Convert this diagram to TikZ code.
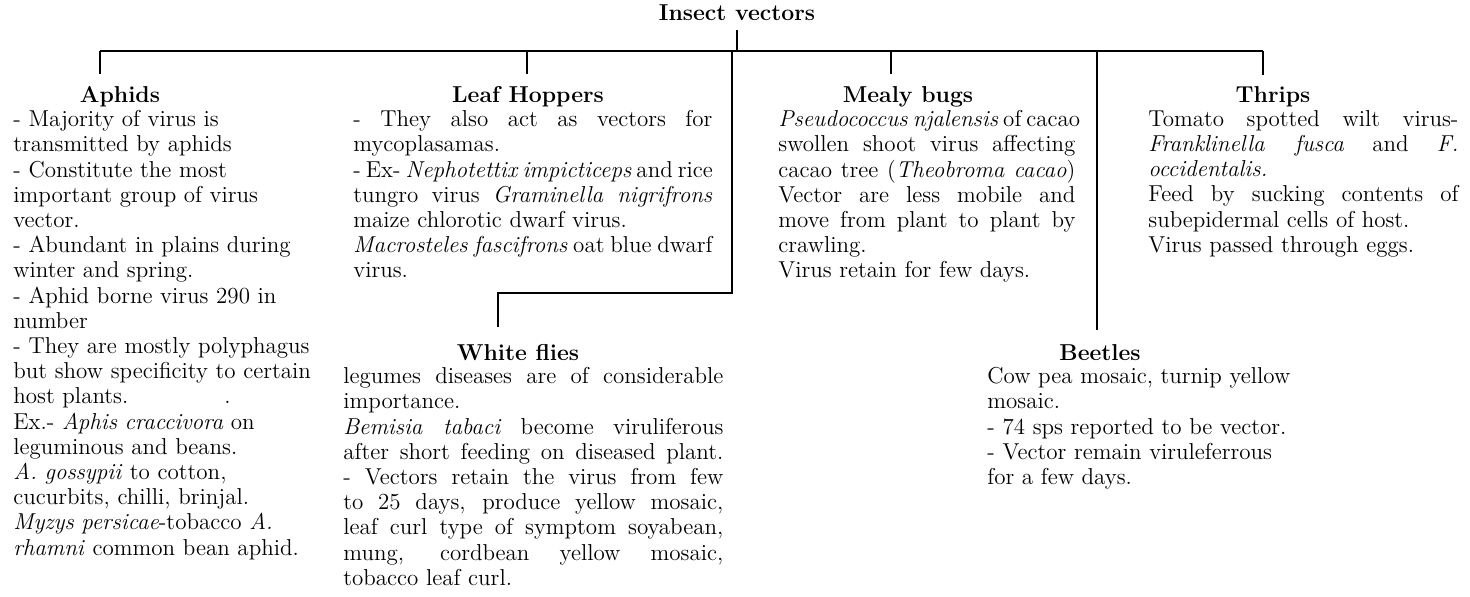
\documentclass[tikz,border=0pt]{standalone}
\usepackage{fontspec}
\usetikzlibrary{positioning}
\newcommand{\bodyfont}{\fontsize{11.5}{12.6}\selectfont}
\newcommand{\jl}[1]{\leavevmode\hbox to\hsize{\spaceskip=0pt\xspaceskip=0pt #1}\\}
\tikzset{
    tree_line/.style={line width=1.2pt, black},
    head_node/.style={font=\bodyfont\bfseries, inner sep=0pt, anchor=base},
    body_node/.style={font=\bodyfont, inner sep=0pt, anchor=north west, align=left}
}

\begin{document}
\begin{tikzpicture}[x=0.5pt, y=-0.5pt]
        \useasboundingbox (0,0) rectangle (1470,596);
        % root and bar
        \node[head_node] (root) at (737,20) {Insect vectors};
        \coordinate (root_stem) at (737,30);
        \coordinate (root_bar) at (737,51);
        \draw[tree_line] (root_stem) -- (root_bar);
        \foreach \name/\x/\y in {aph/100/74, lh/527/74, mb/891/74, thr/1263/75} {
            \coordinate (\name_top) at (\x,51);
            \coordinate (\name_end) at (\x,\y);
            \draw[tree_line] (\name_top) -- (\name_end);
        }
        \draw[tree_line] (aph_top) -- (thr_top);
        % long branches
        \coordinate (wf_top) at (732,51);
        \coordinate (wf_bend) at (498,293);
        \coordinate (wf_end) at (498,327);
        \draw[tree_line] (wf_top) |- (wf_bend) -- (wf_end);
        \coordinate (bt_top) at (1097,51);
        \coordinate (bt_end) at (1097,330);
        \draw[tree_line] (bt_top) -- (bt_end);
        % titles
        \node[head_node] (aph_title) at (120,102) {Aphids};
        \node[head_node] (lh_title) at (528,102) {Leaf Hoppers};
        \node[head_node] (mb_title) at (908,102) {Mealy bugs};
        \node[head_node] (thr_title) at (1273,102) {Thrips};
        \node[head_node] (wf_title) at (518,360) {White flies};
        \node[head_node] (bt_title) at (1100,360) {Beetles};
        % Aphids
        \node[body_node, text width=175pt] (aph_text) at (13,110) {%
            - Majority of virus is\\
            transmitted by aphids\\
            - Constitute the most\\
            important group of virus\\
            vector.\\
            - Abundant in plains during\\
            winter and spring.\\
            - Aphid borne virus 290 in\\
            number\\
            - They are mostly polyphagus\\
            but show specificity to certain\\
            host plants.\hspace{48pt}.\\
            Ex.- \textit{Aphis craccivora} on\\
            leguminous and beans.\\
            \textit{A. gossypii} to cotton,\\
            cucurbits, chilli, brinjal.\\
            \textit{Myzys persicae}-tobacco \textit{A.}\\
            \textit{rhamni} common bean aphid.};
        % Leaf Hoppers
        \node[body_node, text width=179.5pt] (lh_text) at (353,110) {%
            \jl{- They also act as vectors for}
            mycoplasamas.\\
            \jl{- Ex- \textit{Nephotettix impicticeps} and rice}
            \jl{tungro virus \textit{Graminella nigrifrons}}
            maize chlorotic dwarf virus.\\
            \jl{\textit{Macrosteles fascifrons} oat blue dwarf}
            virus.};
        % Mealy bugs
        \node[body_node, text width=148.5pt] (mb_text) at (778,110) {%
            \jl{\textit{Pseudococcus njalensis} of cacao}
            \jl{swollen shoot virus affecting}
            \jl{cacao tree (\textit{Theobroma cacao})}
            \jl{Vector are less mobile and}
            \jl{move from plant to plant by}
            crawling.\\
            Virus retain for few days.};
        % Thrips
        \node[body_node, text width=155pt] (thr_text) at (1148,110) {%
            \jl{Tomato spotted wilt virus-}
            \jl{\textit{Franklinella fusca} and \textit{F.}}
            \textit{occidentalis.}\\
            \jl{Feed by sucking contents of}
            subepidermal cells of host.\\
            Virus passed through eggs.};
        % White flies
        \node[body_node, text width=190pt] (wf_text) at (343,367) {%
            \jl{legumes diseases are of considerable}
            importance.\\
            \jl{\textit{Bemisia tabaci} become viruliferous}
            \jl{after short feeding on diseased plant.}
            \jl{- Vectors retain the virus from few}
            \jl{to 25 days, produce yellow mosaic,}
            \jl{leaf curl type of symptom soyabean,}
            \jl{mung, cordbean yellow mosaic,}
            tobacco leaf curl.};
        % Beetles
        \node[body_node, text width=170pt] (bt_text) at (987,367) {%
            Cow pea mosaic, turnip yellow\\
            mosaic.\\
            - 74 sps reported to be vector.\\
            - Vector remain viruleferrous\\
            for a few days.};
    \end{tikzpicture}
\end{document}
